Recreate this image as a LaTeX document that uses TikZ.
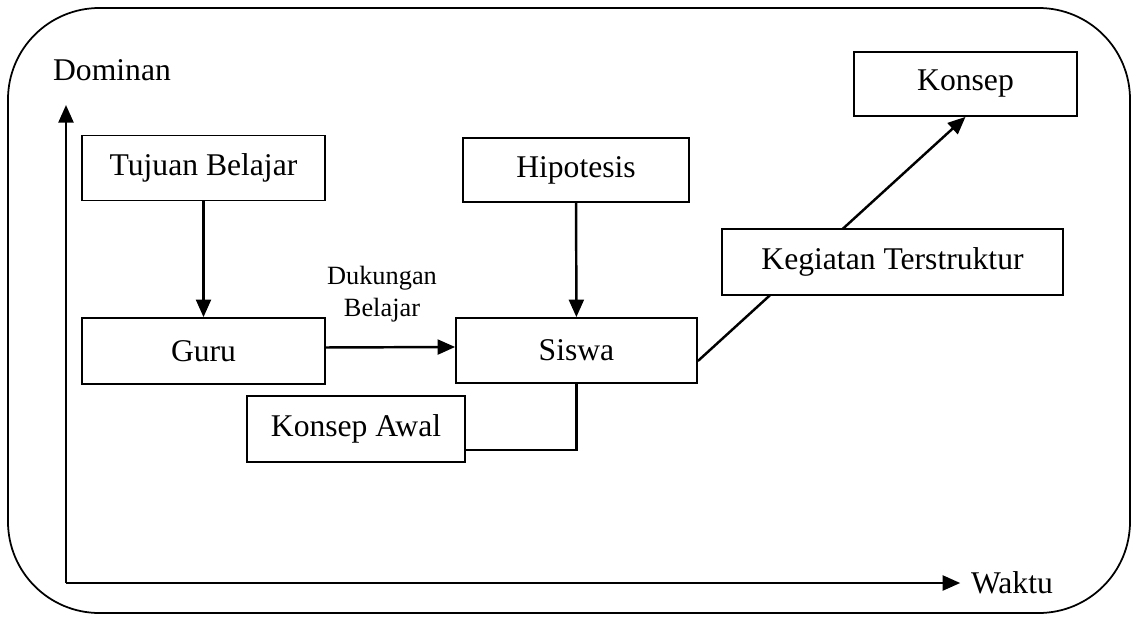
\documentclass[tikz,border=0pt]{standalone}
\usepackage{fontspec}
\setmainfont{Liberation Serif}
\usetikzlibrary{arrows.meta}

\tikzset{
  box/.style={draw, line width=1pt, fill=white, inner sep=0pt,
    font=\fontsize{18}{22}\selectfont},
  arr/.style={line width=1.4pt, -{Triangle[length=10pt,width=8.5pt]}}
}

\begin{document}
\begin{tikzpicture}[x=0.02cm, y=-0.02cm]
    \useasboundingbox (0,0) rectangle (1133,616);

    % Frame
    \draw[line width=1pt, rounded corners=52pt] (8,8) rectangle (1130,613);

    % Axes
    \coordinate (O) at (66,583);
    \coordinate (ytop) at (66,105);
    \node[font=\fontsize{18}{22}\selectfont] (dominan) at (112,70) {Dominan};
    \node[font=\fontsize{18}{22}\selectfont, inner sep=2pt] (waktu) at (1012,583) {Waktu};
    \draw[arr] (O) -- (ytop);
    \draw[arr] (O) -- ([xshift=-4pt]waktu.west);

    % Boxes
    \node[box, minimum width=4.86cm, minimum height=1.30cm] (tujuan) at (203.5,168) {Tujuan Belajar};
    \node[box, minimum width=4.86cm, minimum height=1.32cm] (guru) at (203.5,351) {Guru};
    \node[box, minimum width=4.82cm, minimum height=1.30cm] (siswa) at (576.5,350.5) {Siswa};
    \node[box, minimum width=4.52cm, minimum height=1.28cm] (hipotesis) at (576,170) {Hipotesis};
    \node[box, minimum width=4.36cm, minimum height=1.32cm] (awal) at (356,429) {Konsep Awal};
    \node[box, minimum width=4.46cm, minimum height=1.28cm] (konsep) at (965.5,84) {Konsep};

    % Label
    \node[align=center, font=\fontsize{15}{18}\selectfont] (dukungan) at (382,294) {Dukungan\\Belajar};

    % Connectors
    \draw[arr] (tujuan) -- (guru);
    \draw[arr] (hipotesis) -- (siswa);
    \draw[arr] ([yshift=2pt]guru.east) -- ([yshift=2pt]siswa.west);
    \draw[line width=1.4pt] (siswa.south) |- ([yshift=-12pt]awal.east);
    \draw[arr] ([yshift=-6pt]siswa.east) -- (konsep.south);

    % Box over the diagonal
    \node[box, minimum width=6.82cm, minimum height=1.32cm] (kegiatan) at (892.5,262) {Kegiatan Terstruktur};
\end{tikzpicture}
\end{document}
